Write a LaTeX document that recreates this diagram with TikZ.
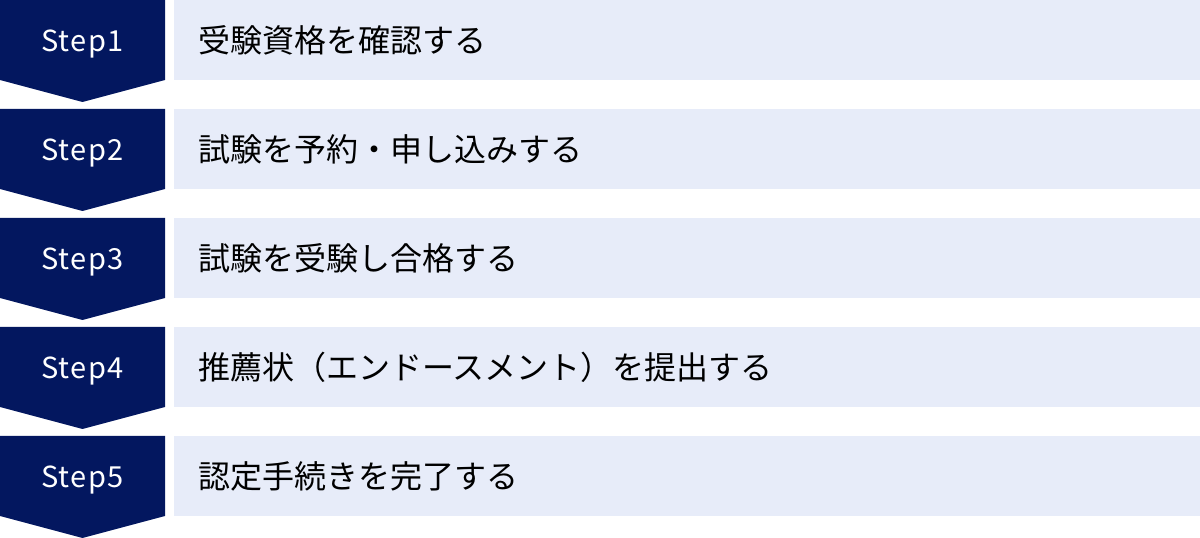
\documentclass[tikz,border=0pt]{standalone}
\usepackage{fontspec}
\usepackage{xcolor}
\usepackage{tikz}
\usetikzlibrary{positioning}
\newfontfamily\jpfont{Noto Sans CJK JP}
\newfontfamily\stepfont[LetterSpace=5]{Noto Sans CJK JP}
\definecolor{navy}{HTML}{03175F}
\definecolor{paleblue}{HTML}{E7ECF9}

\begin{document}
\begin{tikzpicture}[
    x=1pt, y=1pt,
    chevron/.style={fill=navy},
    steplabel/.style={text=white, inner sep=0pt, anchor=base, font=\stepfont\fontsize{29}{32}\selectfont},
    taskbox/.style={fill=paleblue, anchor=north west, inner xsep=24pt, inner ysep=0pt, text width=978pt, minimum height=80pt, align=left, font=\jpfont\fontsize{32}{36}\selectfont}
]
    \useasboundingbox (0,0) rectangle (1200,538);
    \foreach \txt [count=\i] in {受験資格を確認する, 試験を予約・申し込みする, 試験を受験し合格する, 推薦状（エンドースメント）を提出する, 認定手続きを完了する} {
        \pgfmathsetmacro\rowtop{538-109*(\i-1)}
        \fill[chevron] (0,\rowtop) -- (165,\rowtop) -- (165,\rowtop-80) -- (82.5,\rowtop-102) -- (0,\rowtop-80) -- cycle;
        \node[steplabel] (step\i) at (82.5,\rowtop-52) {Step\i};
        \node[taskbox] (task\i) at (174,\rowtop) {\txt};
    }
\end{tikzpicture}
\end{document}
